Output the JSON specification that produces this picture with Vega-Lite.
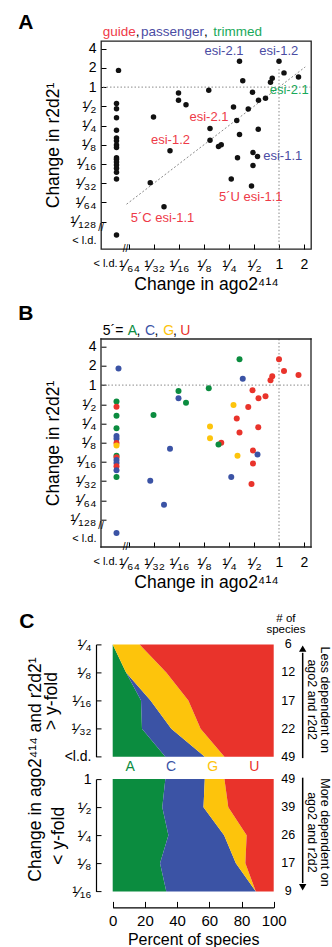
{
"$schema": "https://vega.github.io/schema/vega-lite/v6.json",
"padding": {"left": 17, "top": 11, "right": 0, "bottom": 0},
"background": "white",
"config": {
  "font": "Liberation Sans",
  "view": {"stroke": "#222", "strokeWidth": 1.3},
  "axis": {"grid": false, "labelOverlap": false, "labelColor": "#000", "titleColor": "#000", "tickColor": "#000", "domainColor": "#000", "titleFontWeight": "normal", "tickWidth": 1, "domainWidth": 1.2, "labelFont": "Liberation Sans", "titleFont": "Liberation Sans"},
  "text": {"font": "Liberation Sans"}
},
"datasets": {
  "pts": [
    {"u":-6.42,"v":0.87,"nt":"C"},
    {"u":-6.5,"v":-0.85,"nt":"A"},
    {"u":-6.5,"v":-1.13,"nt":"U"},
    {"u":-6.5,"v":-1.6,"nt":"A"},
    {"u":-6.5,"v":-2.25,"nt":"A"},
    {"u":-6.5,"v":-2.65,"nt":"C"},
    {"u":-6.5,"v":-2.8,"nt":"C"},
    {"u":-6.5,"v":-3.02,"nt":"U"},
    {"u":-6.5,"v":-3.15,"nt":"G"},
    {"u":-6.5,"v":-3.68,"nt":"A"},
    {"u":-6.5,"v":-3.76,"nt":"U"},
    {"u":-6.5,"v":-3.9,"nt":"C"},
    {"u":-6.5,"v":-4.05,"nt":"C"},
    {"u":-6.5,"v":-4.22,"nt":"U"},
    {"u":-6.5,"v":-4.43,"nt":"C"},
    {"u":-6.5,"v":-4.79,"nt":"A"},
    {"u":-6.5,"v":-7.7,"nt":"C"},
    {"u":-1.58,"v":1.34,"nt":"A","ring":"passenger"},
    {"u":0,"v":1.35,"nt":"U","ring":"passenger"},
    {"u":0.2,"v":0.74,"nt":"U"},
    {"u":0.78,"v":0.52,"nt":"U","ring":"trimmed"},
    {"u":-1.45,"v":0.33,"nt":"C"},
    {"u":-0.27,"v":0.46,"nt":"U"},
    {"u":-0.34,"v":0.25,"nt":"U"},
    {"u":-2.81,"v":-0.17,"nt":"A"},
    {"u":-1.06,"v":-0.27,"nt":"U"},
    {"u":-0.54,"v":-0.58,"nt":"U"},
    {"u":-0.82,"v":-0.69,"nt":"U"},
    {"u":-4.02,"v":-0.31,"nt":"A"},
    {"u":-4.02,"v":-0.69,"nt":"C"},
    {"u":-3.72,"v":-0.92,"nt":"A"},
    {"u":-1.82,"v":-1.04,"nt":"G"},
    {"u":-1.23,"v":-1.14,"nt":"U"},
    {"u":-5.02,"v":-1.56,"nt":"A"},
    {"u":-1.69,"v":-1.74,"nt":"U","ring":"guide"},
    {"u":-0.83,"v":-2.2,"nt":"U"},
    {"u":-2.76,"v":-2.15,"nt":"G"},
    {"u":-1.58,"v":-2.47,"nt":"U"},
    {"u":-2.76,"v":-2.77,"nt":"G"},
    {"u":-2.31,"v":-3.0,"nt":"U"},
    {"u":-2.42,"v":-3.09,"nt":"A"},
    {"u":-4.36,"v":-3.32,"nt":"C","ring":"guide"},
    {"u":-1.04,"v":-3.41,"nt":"U"},
    {"u":-0.86,"v":-3.61,"nt":"C","ring":"passenger"},
    {"u":-1.66,"v":-3.68,"nt":"G"},
    {"u":-1.04,"v":-4.08,"nt":"U"},
    {"u":-1.91,"v":-4.79,"nt":"C"},
    {"u":-1.1,"v":-5.15,"nt":"U","ring":"guide"},
    {"u":-5.15,"v":-4.98,"nt":"C"},
    {"u":-4.6,"v":-6.23,"nt":"C","ring":"guide"}
  ],
  "annA": [
    {"u":-2.2,"v":1.875,"t":"esi-2.1","k":"passenger"},
    {"u":-0.01,"v":1.875,"t":"esi-1.2","k":"passenger"},
    {"u":0.41,"v":-0.15,"t":"esi-2.1","k":"trimmed"},
    {"u":-2.8,"v":-1.55,"t":"esi-2.1","k":"guide"},
    {"u":-4.34,"v":-2.76,"t":"esi-1.2","k":"guide"},
    {"u":0.15,"v":-3.59,"t":"esi-1.1","k":"passenger"},
    {"u":-1.13,"v":-5.73,"t":"5´U esi-1.1","k":"guide"},
    {"u":-4.66,"v":-6.81,"t":"5´C esi-1.1","k":"guide"}
  ],
  "hdrA": [
    {"u":-7.05,"v":2.86,"t":"guide","k":"guide"},
    {"u":-5.73,"v":2.86,"t":",","k":"plain"},
    {"u":-5.52,"v":2.86,"t":"passenger","k":"passenger"},
    {"u":-3.0,"v":2.86,"t":",","k":"plain"},
    {"u":-2.63,"v":2.86,"t":"trimmed","k":"trimmed"}
  ],
  "hdrB": [
    {"u":-7.05,"v":2.8,"t":"5´=","k":"plain"},
    {"u":-6.05,"v":2.8,"t":"A","k":"A"},
    {"u":-5.70,"v":2.8,"t":",","k":"plain"},
    {"u":-5.36,"v":2.8,"t":"C","k":"C"},
    {"u":-4.98,"v":2.8,"t":",","k":"plain"},
    {"u":-4.63,"v":2.8,"t":"G","k":"G"},
    {"u":-4.24,"v":2.8,"t":",","k":"plain"},
    {"u":-3.95,"v":2.8,"t":"U","k":"U"}
  ],
  "brk": [
    {"u":-7.12,"v":-7.32},
    {"u":-6.14,"v":-8.43}
  ],
  "cTop": [
    {"lvl":0,"nt":"A","pct":0},{"lvl":0,"nt":"C","pct":0},{"lvl":0,"nt":"G","pct":16.7},{"lvl":0,"nt":"U","pct":83.3},
    {"lvl":1,"nt":"A","pct":8.3},{"lvl":1,"nt":"C","pct":0},{"lvl":1,"nt":"G","pct":25.0},{"lvl":1,"nt":"U","pct":66.7},
    {"lvl":2,"nt":"A","pct":17.6},{"lvl":2,"nt":"C","pct":5.9},{"lvl":2,"nt":"G","pct":23.5},{"lvl":2,"nt":"U","pct":53.0},
    {"lvl":3,"nt":"A","pct":18.2},{"lvl":3,"nt":"C","pct":18.2},{"lvl":3,"nt":"G","pct":18.2},{"lvl":3,"nt":"U","pct":45.4},
    {"lvl":4,"nt":"A","pct":32.7},{"lvl":4,"nt":"C","pct":24.5},{"lvl":4,"nt":"G","pct":12.2},{"lvl":4,"nt":"U","pct":30.6}
  ],
  "cBot": [
    {"lvl":0,"nt":"A","pct":32.7},{"lvl":0,"nt":"C","pct":24.5},{"lvl":0,"nt":"G","pct":12.2},{"lvl":0,"nt":"U","pct":30.6},
    {"lvl":1,"nt":"A","pct":30.8},{"lvl":1,"nt":"C","pct":25.6},{"lvl":1,"nt":"G","pct":15.4},{"lvl":1,"nt":"U","pct":28.2},
    {"lvl":2,"nt":"A","pct":34.6},{"lvl":2,"nt":"C","pct":34.6},{"lvl":2,"nt":"G","pct":14.0},{"lvl":2,"nt":"U","pct":16.8},
    {"lvl":3,"nt":"A","pct":29.4},{"lvl":3,"nt":"C","pct":47.1},{"lvl":3,"nt":"G","pct":5.9},{"lvl":3,"nt":"U","pct":17.6},
    {"lvl":4,"nt":"A","pct":33.3},{"lvl":4,"nt":"C","pct":55.6},{"lvl":4,"nt":"G","pct":0},{"lvl":4,"nt":"U","pct":11.1}
  ],
  "cntTop": [{"lvl":0,"n":6},{"lvl":1,"n":12},{"lvl":2,"n":17},{"lvl":3,"n":22},{"lvl":4,"n":49}],
  "cntBot": [{"lvl":0,"n":49},{"lvl":1,"n":39},{"lvl":2,"n":26},{"lvl":3,"n":17},{"lvl":4,"n":9}],
  "nsp": [{"l":-0.915,"t":"# of"},{"l":-0.52,"t":"species"}],
  "sideTop": [{"p":131.6,"t":"Less dependent on"},{"p":123.7,"t":"ago2 and r2d2"}],
  "sideBot": [{"p":131.6,"t":"More dependent on"},{"p":123.7,"t":"ago2 and r2d2"}],
  "acgu": [{"nt":"A","p":10.9},{"nt":"C","p":36.2},{"nt":"G","p":62.1},{"nt":"U","p":88.0}]
},
"spacing": 21.7,
"bounds": "flush",
"vconcat": [
  {
    "width": 210, "height": 208,
    "layer": [
      {"data": {"values": [{}]}, "mark": {"type": "rule", "color": "#8a8a8a", "strokeDash": [1.5, 2], "strokeWidth": 1},
       "encoding": {"y": {"datum": 0, "type": "quantitative", "scale": {"domain": [-8.43, 2.4], "nice": false, "zero": false}}}},
      {"data": {"values": [{}]}, "mark": {"type": "rule", "color": "#8a8a8a", "strokeDash": [1.5, 2], "strokeWidth": 1},
       "encoding": {"x": {"datum": 0, "type": "quantitative", "scale": {"domain": [-7.12, 1.28], "nice": false, "zero": false}}, "y": {"datum": -8.43, "type": "quantitative", "scale": {"domain": [-8.43, 2.4], "nice": false, "zero": false}}, "y2": {"datum": 1.0}}},
      {"data": {"values": [{}]}, "mark": {"type": "rule", "color": "#8a8a8a", "strokeDash": [2, 2], "strokeWidth": 1},
       "encoding": {"x": {"datum": -6.1, "type": "quantitative", "scale": {"domain": [-7.12, 1.28], "nice": false, "zero": false}}, "y": {"datum": -6.1, "type": "quantitative", "scale": {"domain": [-8.43, 2.4], "nice": false, "zero": false}}, "x2": {"datum": 1.05}, "y2": {"datum": 1.05}}},
      {"data": {"name": "pts"}, "transform": [{"filter": {"field": "ring", "valid": true}}],
       "mark": {"type": "point", "filled": true, "fill": "white", "size": 90, "strokeWidth": 1.4, "opacity": 1},
       "encoding": {"x": {"field": "u", "type": "quantitative", "scale": {"domain": [-7.12, 1.28], "nice": false, "zero": false}},
                    "y": {"field": "v", "type": "quantitative", "scale": {"domain": [-8.43, 2.4], "nice": false, "zero": false}},
                    "stroke": {"field": "ring", "type": "nominal", "scale": {"domain": ["guide", "passenger", "trimmed"], "range": ["#ee3a48", "#4a4ca3", "#19a95a"]}, "legend": null}}},
      {"data": {"name": "pts"}, "mark": {"type": "circle", "color": "#111", "size": 30, "opacity": 1},
       "encoding": {
         "x": {"field": "u", "type": "quantitative", "scale": {"domain": [-7.12, 1.28], "nice": false, "zero": false},
               "axis": {"values": [-6.96, -6, -5, -4, -3, -2, -1, 0, 1], "tickCount": 30, "labelExpr": "datum.value < -6.5 ? '< l.d.' : datum.value >= 0 ? ['1','2'][datum.value] : ['¹⁄₂','¹⁄₄','¹⁄₈','¹⁄₁₆','¹⁄₃₂','¹⁄₆₄'][-datum.value-1]",
                        "title": "Change in ago2⁴¹⁴", "titleFontSize": 17.5, "labelFontSize": {"condition": [{"test": "datum.value < -6.5", "value": 11}, {"test": "datum.value < 0", "value": 16}], "value": 14},
                        "tickSize": -5, "tickColor": {"condition": {"test": "datum.value < -6.5", "value": "transparent"}, "value": "#000"},
                        "domain": false, "labelPadding": 13, "titlePadding": 2, "labelFlush": false, "labelOverlap": false}},
         "y": {"field": "v", "type": "quantitative", "scale": {"domain": [-8.43, 2.4], "nice": false, "zero": false},
               "axis": {"values": [-8, -7, -6, -5, -4, -3, -2, -1, 0, 1, 2], "tickCount": 30, "labelExpr": "datum.value < -7.5 ? '< l.d.' : datum.value >= 0 ? ['1','2','4'][datum.value] : ['¹⁄₂','¹⁄₄','¹⁄₈','¹⁄₁₆','¹⁄₃₂','¹⁄₆₄','¹⁄₁₂₈'][-datum.value-1]",
                        "title": "Change in r2d2¹", "titleFontSize": 17.5, "labelFontSize": {"condition": [{"test": "datum.value < -7.5", "value": 11}, {"test": "datum.value < 0", "value": 16}], "value": 14},
                        "tickSize": -5, "tickColor": {"condition": {"test": "datum.value < -7.5", "value": "transparent"}, "value": "#000"},
                        "domain": false, "labelPadding": 10, "titlePadding": 7, "labelFlush": false, "labelOverlap": false}}}},
      {"data": {"name": "annA"}, "mark": {"type": "text", "fontSize": 13},
       "encoding": {"x": {"field": "u", "type": "quantitative", "scale": {"domain": [-7.12, 1.28], "nice": false, "zero": false}},
                    "y": {"field": "v", "type": "quantitative", "scale": {"domain": [-8.43, 2.4], "nice": false, "zero": false}},
                    "text": {"field": "t"},
                    "color": {"field": "k", "type": "nominal", "scale": {"domain": ["A","C","G","U","guide","passenger","trimmed","plain"], "range": ["#0b8c3f","#3b53a5","#fdc40c","#e9332b","#ee3a48","#4a4ca3","#19a95a","#000000"]}, "legend": null}}},
      {"data": {"name": "hdrA"}, "mark": {"type": "text", "fontSize": 13.5, "align": "left"},
       "encoding": {"x": {"field": "u", "type": "quantitative", "scale": {"domain": [-7.12, 1.28], "nice": false, "zero": false}},
                    "y": {"field": "v", "type": "quantitative", "scale": {"domain": [-8.43, 2.4], "nice": false, "zero": false}},
                    "text": {"field": "t"},
                    "color": {"field": "k", "type": "nominal", "scale": {"domain": ["A","C","G","U","guide","passenger","trimmed","plain"], "range": ["#0b8c3f","#3b53a5","#fdc40c","#e9332b","#ee3a48","#4a4ca3","#19a95a","#000000"]}, "legend": null}}},
      {"data": {"name": "brk"}, "mark": {"type": "text", "text": "//", "fontSize": 10, "color": "#000"},
       "encoding": {"x": {"field": "u", "type": "quantitative", "scale": {"domain": [-7.12, 1.28], "nice": false, "zero": false}},
                    "y": {"field": "v", "type": "quantitative", "scale": {"domain": [-8.43, 2.4], "nice": false, "zero": false}}}},
      {"data": {"values": [{}]}, "mark": {"type": "text", "text": "A", "fontSize": 21, "fontWeight": "bold", "color": "#000"},
       "encoding": {"x": {"datum": -10.13, "type": "quantitative", "scale": {"domain": [-7.12, 1.28], "nice": false, "zero": false}},
                    "y": {"datum": 3.35, "type": "quantitative", "scale": {"domain": [-8.43, 2.4], "nice": false, "zero": false}}}}
    ]
  },
  {
    "width": 210, "height": 276.3,
    "view": {"stroke": null},
    "layer": [
      {"data": {"values": [{}]}, "mark": {"type": "rule", "color": "#8a8a8a", "strokeDash": [1.5, 2], "strokeWidth": 1},
       "encoding": {"x": {"datum": -7.12, "type": "quantitative", "scale": {"domain": [-7.12, 1.28], "nice": false, "zero": false}}, "x2": {"datum": 1.28}, "y": {"datum": 0, "type": "quantitative", "scale": {"domain": [-8.43, 2.4], "range": [276.3, 68.3], "nice": false, "zero": false}}}},
      {"data": {"values": [{}]}, "mark": {"type": "rule", "color": "#8a8a8a", "strokeDash": [1.5, 2], "strokeWidth": 1},
       "encoding": {"x": {"datum": 0, "type": "quantitative", "scale": {"domain": [-7.12, 1.28], "nice": false, "zero": false}}, "y": {"datum": -8.43, "type": "quantitative", "scale": {"domain": [-8.43, 2.4], "range": [276.3, 68.3], "nice": false, "zero": false}}, "y2": {"datum": 2.4}}},
      {"data": {"values": [{}]}, "mark": {"type": "rule", "color": "#222", "strokeWidth": 1.3, "strokeCap": "square"},
       "encoding": {"x": {"datum": -7.12, "type": "quantitative", "scale": {"domain": [-7.12, 1.28], "nice": false, "zero": false}}, "y": {"datum": -8.43, "type": "quantitative", "scale": {"domain": [-8.43, 2.4], "range": [276.3, 68.3], "nice": false, "zero": false}}, "y2": {"datum": 2.4}}},
      {"data": {"values": [{}]}, "mark": {"type": "rule", "color": "#222", "strokeWidth": 1.3, "strokeCap": "square"},
       "encoding": {"x": {"datum": 1.28, "type": "quantitative", "scale": {"domain": [-7.12, 1.28], "nice": false, "zero": false}}, "y": {"datum": -8.43, "type": "quantitative", "scale": {"domain": [-8.43, 2.4], "range": [276.3, 68.3], "nice": false, "zero": false}}, "y2": {"datum": 2.4}}},
      {"data": {"values": [{}]}, "mark": {"type": "rule", "color": "#222", "strokeWidth": 1.3, "strokeCap": "square"},
       "encoding": {"x": {"datum": -7.12, "type": "quantitative", "scale": {"domain": [-7.12, 1.28], "nice": false, "zero": false}}, "x2": {"datum": 1.28}, "y": {"datum": 2.4, "type": "quantitative", "scale": {"domain": [-8.43, 2.4], "range": [276.3, 68.3], "nice": false, "zero": false}}}},
      {"data": {"values": [{}]}, "mark": {"type": "rule", "color": "#222", "strokeWidth": 1.3, "strokeCap": "square"},
       "encoding": {"x": {"datum": -7.12, "type": "quantitative", "scale": {"domain": [-7.12, 1.28], "nice": false, "zero": false}}, "x2": {"datum": 1.28}, "y": {"datum": -8.43, "type": "quantitative", "scale": {"domain": [-8.43, 2.4], "range": [276.3, 68.3], "nice": false, "zero": false}}}},
      {"data": {"name": "pts"}, "mark": {"type": "circle", "size": 36, "opacity": 1},
       "encoding": {
         "x": {"field": "u", "type": "quantitative", "scale": {"domain": [-7.12, 1.28], "nice": false, "zero": false},
               "axis": {"values": [-6.96, -6, -5, -4, -3, -2, -1, 0, 1], "tickCount": 30, "labelExpr": "datum.value < -6.5 ? '< l.d.' : datum.value >= 0 ? ['1','2'][datum.value] : ['¹⁄₂','¹⁄₄','¹⁄₈','¹⁄₁₆','¹⁄₃₂','¹⁄₆₄'][-datum.value-1]",
                        "title": "Change in ago2⁴¹⁴", "titleFontSize": 17.5, "labelFontSize": {"condition": [{"test": "datum.value < -6.5", "value": 11}, {"test": "datum.value < 0", "value": 16}], "value": 14},
                        "tickSize": -5, "tickColor": {"condition": {"test": "datum.value < -6.5", "value": "transparent"}, "value": "#000"},
                        "domain": false, "labelPadding": 13, "titlePadding": 2, "labelFlush": false, "labelOverlap": false}},
         "y": {"field": "v", "type": "quantitative", "scale": {"domain": [-8.43, 2.4], "range": [276.3, 68.3], "nice": false, "zero": false},
               "axis": {"values": [-8, -7, -6, -5, -4, -3, -2, -1, 0, 1, 2], "tickCount": 30, "labelExpr": "datum.value < -7.5 ? '< l.d.' : datum.value >= 0 ? ['1','2','4'][datum.value] : ['¹⁄₂','¹⁄₄','¹⁄₈','¹⁄₁₆','¹⁄₃₂','¹⁄₆₄','¹⁄₁₂₈'][-datum.value-1]",
                        "title": "Change in r2d2¹", "titleFontSize": 17.5, "labelFontSize": {"condition": [{"test": "datum.value < -7.5", "value": 11}, {"test": "datum.value < 0", "value": 16}], "value": 14},
                        "tickSize": -5, "tickColor": {"condition": {"test": "datum.value < -7.5", "value": "transparent"}, "value": "#000"},
                        "domain": false, "labelPadding": 10, "titlePadding": 7, "labelFlush": false, "labelOverlap": false}},
         "color": {"field": "nt", "type": "nominal", "scale": {"domain": ["A","C","G","U","guide","passenger","trimmed","plain"], "range": ["#0b8c3f","#3b53a5","#fdc40c","#e9332b","#ee3a48","#4a4ca3","#19a95a","#000000"]}, "legend": null}}},
      {"data": {"name": "hdrB"}, "mark": {"type": "text", "fontSize": 14, "align": "left"},
       "encoding": {"x": {"field": "u", "type": "quantitative", "scale": {"domain": [-7.12, 1.28], "nice": false, "zero": false}},
                    "y": {"field": "v", "type": "quantitative", "scale": {"domain": [-8.43, 2.4], "range": [276.3, 68.3], "nice": false, "zero": false}},
                    "text": {"field": "t"},
                    "color": {"field": "k", "type": "nominal", "scale": {"domain": ["A","C","G","U","guide","passenger","trimmed","plain"], "range": ["#0b8c3f","#3b53a5","#fdc40c","#e9332b","#ee3a48","#4a4ca3","#19a95a","#000000"]}, "legend": null}}},
      {"data": {"name": "brk"}, "mark": {"type": "text", "text": "//", "fontSize": 10, "color": "#000"},
       "encoding": {"x": {"field": "u", "type": "quantitative", "scale": {"domain": [-7.12, 1.28], "nice": false, "zero": false}},
                    "y": {"field": "v", "type": "quantitative", "scale": {"domain": [-8.43, 2.4], "range": [276.3, 68.3], "nice": false, "zero": false}}}},
      {"data": {"values": [{}]}, "mark": {"type": "text", "text": "B", "fontSize": 21, "fontWeight": "bold", "color": "#000"},
       "encoding": {"x": {"datum": -10.13, "type": "quantitative", "scale": {"domain": [-7.12, 1.28], "nice": false, "zero": false}},
                    "y": {"datum": 3.68, "type": "quantitative", "scale": {"domain": [-8.43, 2.4], "range": [276.3, 68.3], "nice": false, "zero": false}}}}
    ]
  },
  {
    "width": 210, "height": 187.3,
    "view": {"stroke": null},
    "layer": [
      {"data": {"name": "cTop"}, "mark": {"type": "area", "orient": "horizontal", "opacity": 1},
       "encoding": {
         "x": {"field": "pct", "type": "quantitative", "stack": "zero", "scale": {"domain": [0, 100], "range": [11.7, 172.7], "nice": false, "zero": false}, "axis": null},
         "y": {"field": "lvl", "type": "quantitative", "scale": {"domain": [0, 4], "range": [75, 187.3], "nice": false, "zero": false},
               "axis": {"values": [0, 1, 2, 3, 4], "tickCount": 30, "labelExpr": "['¹⁄₄','¹⁄₈','¹⁄₁₆','¹⁄₃₂','<l.d.'][datum.value]", "title": "> y-fold", "titleFontSize": 17.5, "labelFontSize": {"condition": {"test": "datum.value > 3.5", "value": 14}, "value": 15.5}, "offset": 5, "tickSize": -5, "domain": true, "labelPadding": 10, "titlePadding": 4, "labelFlush": false, "labelOverlap": false}},
         "color": {"field": "nt", "type": "nominal", "scale": {"domain": ["A","C","G","U","guide","passenger","trimmed","plain"], "range": ["#0b8c3f","#3b53a5","#fdc40c","#e9332b","#ee3a48","#4a4ca3","#19a95a","#000000"]}, "legend": null},
         "order": {"field": "nt", "sort": "ascending"}}},
      {"data": {"name": "cntTop"}, "mark": {"type": "text", "fontSize": 12.5, "color": "#000"},
       "encoding": {"x": {"datum": 109, "type": "quantitative", "scale": {"domain": [0, 100], "range": [11.7, 172.7], "nice": false, "zero": false}},
                    "y": {"field": "lvl", "type": "quantitative", "scale": {"domain": [0, 4], "range": [75, 187.3], "nice": false, "zero": false}},
                    "text": {"field": "n"}}},
      {"data": {"name": "nsp"}, "mark": {"type": "text", "fontSize": 11.5, "color": "#000"},
       "encoding": {"x": {"datum": 107.6, "type": "quantitative", "scale": {"domain": [0, 100], "range": [11.7, 172.7], "nice": false, "zero": false}},
                    "y": {"field": "l", "type": "quantitative", "scale": {"domain": [0, 4], "range": [75, 187.3], "nice": false, "zero": false}},
                    "text": {"field": "t"}}},
      {"data": {"values": [{}]}, "mark": {"type": "rule", "color": "#000", "strokeWidth": 1.5},
       "encoding": {"x": {"datum": 118, "type": "quantitative", "scale": {"domain": [0, 100], "range": [11.7, 172.7], "nice": false, "zero": false}},
                    "y": {"datum": 4.05, "type": "quantitative", "scale": {"domain": [0, 4], "range": [75, 187.3], "nice": false, "zero": false}}, "y2": {"datum": 0.3}}},
      {"data": {"values": [{}]}, "mark": {"type": "point", "shape": "triangle-up", "filled": true, "color": "#000", "size": 55, "opacity": 1},
       "encoding": {"x": {"datum": 118, "type": "quantitative", "scale": {"domain": [0, 100], "range": [11.7, 172.7], "nice": false, "zero": false}},
                    "y": {"datum": 0.15, "type": "quantitative", "scale": {"domain": [0, 4], "range": [75, 187.3], "nice": false, "zero": false}}}},
      {"data": {"name": "sideTop"}, "mark": {"type": "text", "fontSize": 12.5, "angle": 90, "color": "#000"},
       "encoding": {"x": {"field": "p", "type": "quantitative", "scale": {"domain": [0, 100], "range": [11.7, 172.7], "nice": false, "zero": false}},
                    "y": {"datum": 1.97, "type": "quantitative", "scale": {"domain": [0, 4], "range": [75, 187.3], "nice": false, "zero": false}},
                    "text": {"field": "t"}}},
      {"data": {"values": [{}]}, "mark": {"type": "text", "text": "C", "fontSize": 21, "fontWeight": "bold", "color": "#000"},
       "encoding": {"x": {"datum": -53.4, "type": "quantitative", "scale": {"domain": [0, 100], "range": [11.7, 172.7], "nice": false, "zero": false}},
                    "y": {"datum": -0.81, "type": "quantitative", "scale": {"domain": [0, 4], "range": [75, 187.3], "nice": false, "zero": false}}}},
      {"data": {"values": [{}]}, "mark": {"type": "text", "text": "Change in ago2⁴¹⁴ and r2d2¹", "fontSize": 17.5, "angle": 270, "color": "#000"},
       "encoding": {"x": {"datum": -47.6, "type": "quantitative", "scale": {"domain": [0, 100], "range": [11.7, 172.7], "nice": false, "zero": false}},
                    "y": {"datum": 4.46, "type": "quantitative", "scale": {"domain": [0, 4], "range": [75, 187.3], "nice": false, "zero": false}}}}
    ]
  },
  {
    "width": 210, "height": 112.3,
    "view": {"stroke": null},
    "layer": [
      {"data": {"name": "cBot"}, "mark": {"type": "area", "orient": "horizontal", "opacity": 1},
       "encoding": {
         "x": {"field": "pct", "type": "quantitative", "stack": "zero", "scale": {"domain": [0, 100], "range": [11.7, 172.7], "nice": false, "zero": false},
               "axis": {"values": [0, 20, 40, 60, 80, 100], "tickCount": 30, "format": "d", "title": "Percent of species", "titleFontSize": 16, "labelFontSize": 15, "offset": 16, "tickSize": -6, "domain": true, "labelPadding": 12, "titlePadding": 3, "labelFlush": false, "labelOverlap": false}},
         "y": {"field": "lvl", "type": "quantitative", "scale": {"domain": [0, 4], "reverse": true, "nice": false, "zero": false},
               "axis": {"values": [0, 1, 2, 3, 4], "tickCount": 30, "labelExpr": "['1','¹⁄₂','¹⁄₄','¹⁄₈','¹⁄₁₆'][datum.value]", "title": "< y-fold", "titleFontSize": 17.5, "labelFontSize": {"condition": {"test": "datum.value < 0.5", "value": 14}, "value": 15.5}, "offset": 5, "tickSize": -5, "domain": true, "labelPadding": 10, "titlePadding": 4, "labelFlush": false, "labelOverlap": false}},
         "color": {"field": "nt", "type": "nominal", "scale": {"domain": ["A","C","G","U","guide","passenger","trimmed","plain"], "range": ["#0b8c3f","#3b53a5","#fdc40c","#e9332b","#ee3a48","#4a4ca3","#19a95a","#000000"]}, "legend": null},
         "order": {"field": "nt", "sort": "ascending"}}},
      {"data": {"name": "cntBot"}, "mark": {"type": "text", "fontSize": 12.5, "color": "#000"},
       "encoding": {"x": {"datum": 109, "type": "quantitative", "scale": {"domain": [0, 100], "range": [11.7, 172.7], "nice": false, "zero": false}},
                    "y": {"field": "lvl", "type": "quantitative", "scale": {"domain": [0, 4], "reverse": true, "nice": false, "zero": false}},
                    "text": {"field": "n"}}},
      {"data": {"name": "acgu"}, "mark": {"type": "text", "fontSize": 14},
       "encoding": {"x": {"field": "p", "type": "quantitative", "scale": {"domain": [0, 100], "range": [11.7, 172.7], "nice": false, "zero": false}},
                    "y": {"datum": -0.42, "type": "quantitative", "scale": {"domain": [0, 4], "reverse": true, "nice": false, "zero": false}},
                    "text": {"field": "nt"},
                    "color": {"field": "nt", "type": "nominal", "scale": {"domain": ["A","C","G","U","guide","passenger","trimmed","plain"], "range": ["#0b8c3f","#3b53a5","#fdc40c","#e9332b","#ee3a48","#4a4ca3","#19a95a","#000000"]}, "legend": null}}},
      {"data": {"values": [{}]}, "mark": {"type": "rule", "color": "#000", "strokeWidth": 1.5},
       "encoding": {"x": {"datum": 118, "type": "quantitative", "scale": {"domain": [0, 100], "range": [11.7, 172.7], "nice": false, "zero": false}},
                    "y": {"datum": -0.05, "type": "quantitative", "scale": {"domain": [0, 4], "reverse": true, "nice": false, "zero": false}}, "y2": {"datum": 3.7}}},
      {"data": {"values": [{}]}, "mark": {"type": "point", "shape": "triangle-down", "filled": true, "color": "#000", "size": 55, "opacity": 1},
       "encoding": {"x": {"datum": 118, "type": "quantitative", "scale": {"domain": [0, 100], "range": [11.7, 172.7], "nice": false, "zero": false}},
                    "y": {"datum": 3.85, "type": "quantitative", "scale": {"domain": [0, 4], "reverse": true, "nice": false, "zero": false}}}},
      {"data": {"name": "sideBot"}, "mark": {"type": "text", "fontSize": 12.5, "angle": 90, "color": "#000"},
       "encoding": {"x": {"field": "p", "type": "quantitative", "scale": {"domain": [0, 100], "range": [11.7, 172.7], "nice": false, "zero": false}},
                    "y": {"datum": 1.9, "type": "quantitative", "scale": {"domain": [0, 4], "reverse": true, "nice": false, "zero": false}},
                    "text": {"field": "t"}}}
    ]
  }
]
}
